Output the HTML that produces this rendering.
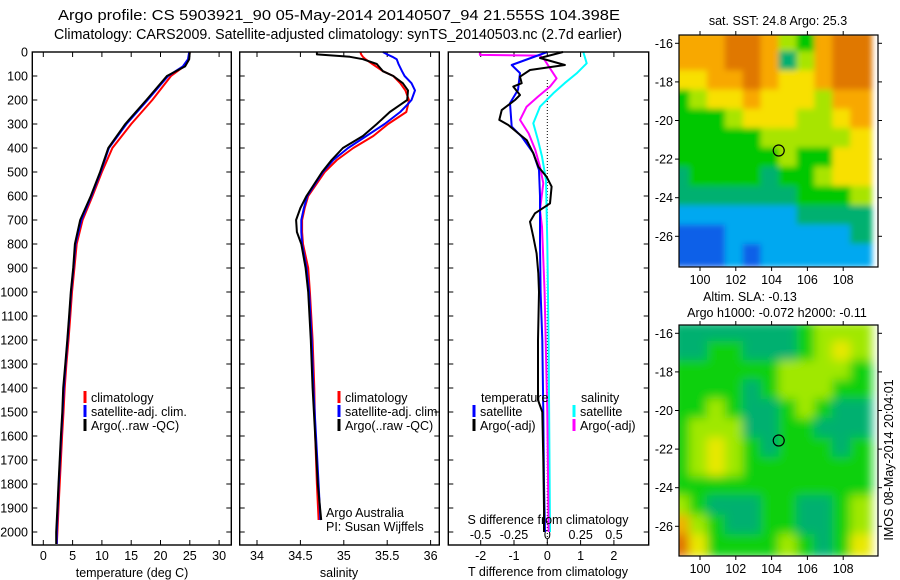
<!DOCTYPE html>
<html><head><meta charset="utf-8"><style>
html,body{margin:0;padding:0;background:#fff;}
svg{display:block;font-family:"Liberation Sans",sans-serif;}
</style></head><body>
<svg id="fig" width="900" height="580" viewBox="0 0 900 580" xmlns="http://www.w3.org/2000/svg">
<text x="58" y="20" font-size="14.5" textLength="562" lengthAdjust="spacingAndGlyphs">Argo profile: CS 5903921_90 05-May-2014 20140507_94 21.555S 104.398E</text>
<text x="54" y="39" font-size="14.5" textLength="568" lengthAdjust="spacingAndGlyphs">Climatology: CARS2009. Satellite-adjusted climatology: synTS_20140503.nc (2.7d earlier)</text>
<g id="plots"></g>
</svg>
<script>
// ---------------- data ----------------
const tDepth = [0,30,60,100,200,300,400,500,600,700,800,900,1000,1100,1200,1300,1400,1500,1600,1700,1800,1900,2000,2050];
const tArgo  = [25.0,24.9,24.2,21.1,17.6,14.0,11.1,9.7,8.1,6.3,5.4,5.1,4.7,4.4,4.1,3.75,3.4,3.25,3.0,2.8,2.6,2.4,2.2,2.2];
const tClim  = [25.0,24.8,24.0,21.8,18.6,15.0,11.8,10.0,8.4,6.7,5.7,5.3,4.9,4.6,4.3,3.95,3.65,3.45,3.2,3.0,2.8,2.6,2.4,2.3];
const tSat   = [24.9,24.7,23.8,21.3,17.8,14.2,11.2,9.8,8.2,6.5,5.5,5.15,4.75,4.45,4.15,3.8,3.5,3.3,3.05,2.85,2.65,2.45,2.3,2.3];

const sDepth = [0,10,20,30,50,80,100,130,160,200,220,250,300,350,400,450,500,600,650,700,750,800,900,1000,1200,1400,1600,1800,1950];
const sArgo  = [34.69,34.69,35.07,35.22,35.38,35.45,35.57,35.68,35.74,35.73,35.65,35.53,35.38,35.22,34.99,34.86,34.75,34.57,34.50,34.45,34.46,34.51,34.56,34.59,34.62,34.64,34.67,34.70,34.74];
const sClim  = [35.19,35.2,35.22,35.25,35.33,35.45,35.57,35.65,35.71,35.75,35.74,35.72,35.51,35.34,35.11,34.92,34.78,34.59,34.55,34.52,34.52,34.53,34.59,34.61,34.64,34.66,34.67,34.69,34.71];
const sSat   = [35.45,35.5,35.56,35.61,35.63,35.67,35.7,35.78,35.82,35.78,35.73,35.65,35.47,35.26,35.05,34.88,34.76,34.58,34.54,34.51,34.51,34.52,34.57,34.60,34.63,34.65,34.68,34.71,34.73];

const dtSatDepth = [0,54,88,158,213,311,353,421,492,600,800,1000,1200,1500,1800,2000];
const dtSat      = [0,-1.07,-0.82,-0.88,-1.12,-1.07,-0.77,-0.42,-0.25,-0.22,-0.22,-0.2,-0.15,-0.12,-0.1,-0.07];
const dtArgoDepth = [0,25,54,75,103,130,144,179,200,242,283,304,339,367,422,478,520,561,631,672,707,770,839,922,1000,1200,1450,1500,1700,1900,2000];
const dtArgo      = [0.47,-0.22,0.53,-0.52,-0.82,-0.77,-1.02,-0.82,-0.97,-1.37,-1.44,-1.17,-0.87,-0.62,-0.42,-0.27,-0.02,0.13,0.08,-0.37,-0.52,-0.42,-0.32,-0.27,-0.25,-0.28,-0.28,-0.15,-0.12,-0.1,-0.1];
const dsSatDepth = [0,47,89,130,172,228,297,367,436,533,800,1200,1600,2000];
const dsSat      = [0.27,0.295,0.22,0.13,0.045,-0.055,-0.105,-0.07,-0.04,-0.01,0,0.01,0.015,0.02];
const dsArgoDepth = [0,12,15,33,68,110,144,186,228,283,339,408,478,547,658,728,1000,1500,2000];
const dsArgo      = [-0.505,-0.505,-0.055,-0.02,0.02,0.07,0.02,-0.07,-0.155,-0.205,-0.14,-0.09,-0.055,-0.03,-0.055,-0.04,-0.02,0,0.01];

const depthTicks = [0,100,200,300,400,500,600,700,800,900,1000,1100,1200,1300,1400,1500,1600,1700,1800,1900,2000];
const tTicks = [0,5,10,15,20,25,30];
const sTicks = [34,34.5,35,35.5,36];
const sTickLabels = ["34","34.5","35","35.5","36"];
const dTTicks = [-2,-1,0,1,2];
const dSTicks = [-0.5,-0.25,0,0.25,0.5];
const dSTickLabels = ["-0.5","-0.25","0","0.25","0.5"];

const lonTicks = [100,102,104,106,108];
const latTicks = [-16,-18,-20,-22,-24,-26];
const gridLons = [99,100,101,102,103,104,105,106,107,108,109];
const gridLats = [-16,-17,-18,-19,-20,-21,-22,-23,-24,-25,-26,-27];
const sstGrid = [
[7,7,7,8,8,7,5,4,7,8,8],
[7,7,7,8,8,7,3,5,7,8,8],
[6,6,7,7,8,7,6,6,7,8,8],
[4,5,6,6,7,6,6,6,5,7,7],
[4,4,4,5,6,6,6,5,5,6,7],
[4,4,4,4,4,5,5,5,5,5,6],
[4,4,4,4,4,4,5,4,4,6,6],
[3,4,4,4,4,3,4,4,5,6,6],
[3,3,3,3,3,3,3,4,4,4,5],
[2,2,2,2,2,2,2,3,3,3,3],
[1,1,1,2,2,2,2,2,2,2,3],
[1,1,1,2,1,2,2,2,2,2,2]];
const slaGrid = [
[3,3,3,3,3,3,3,4,5,5,5],
[3,3,4,4,3,3,3,4,5,6,5],
[4,4,4,4,4,4,5,5,5,5,4],
[4,4,4,4,3,4,5,5,5,4,4],
[4,4,5,4,3,3,4,5,4,3,3],
[4,5,5,5,3,3,4,4,3,3,3],
[4,5,6,5,4,3,4,4,4,3,4],
[4,5,6,5,4,4,4,4,4,4,4],
[4,4,4,4,4,4,4,4,4,4,4],
[5,4,3,3,3,4,4,3,3,4,5],
[7,5,4,3,3,4,4,3,3,4,5],
[8,6,4,4,4,4,5,4,3,4,6]];
const argoLon = 104.398, argoLat = -21.555;

// ---------------- drawing ----------------
const NS="http://www.w3.org/2000/svg";
const root=document.getElementById('plots');
function el(tag,attrs,parent){const e=document.createElementNS(NS,tag);for(const k in attrs)e.setAttribute(k,attrs[k]);(parent||root).appendChild(e);return e;}
function txt(x,y,s,size,anchor,parent){const t=el('text',{x:x,y:y,'font-size':size,'text-anchor':anchor||'start'},parent);t.textContent=s;return t;}

const Y0=52, Y1=545;
const yD = d => Y0 + d*0.24;

function axisFrame(x0,x1,name){
  const r=el('rect',{x:x0,y:Y0,width:x1-x0,height:Y1-Y0,fill:'none',stroke:'#000','stroke-width':1.4});
  
  
}
function line(xs,ds,fx,color,name,w){
  const pts=xs.map((v,i)=>fx(v).toFixed(1)+','+yD(ds[i]).toFixed(1)).join(' ');
  const p=el('polyline',{points:pts,fill:'none',stroke:color,'stroke-width':w||2,'stroke-linejoin':'round'});
  
  
}
function legend(x,y,color,label,name){
  const g=el('g',{});
  
  
  el('line',{x1:x,y1:y-11,x2:x,y2:y+1,stroke:color,'stroke-width':3},g);
  if(label) txt(x+6,y,label,12.5,'start',g);
}
function xTicks(ticks,labels,fx,yl){
  ticks.forEach((t,i)=>{
    const x=fx(t);
    el('line',{x1:x,y1:Y1,x2:x,y2:Y1-5,stroke:'#000','stroke-width':1});
    el('line',{x1:x,y1:Y0,x2:x,y2:Y0+5,stroke:'#000','stroke-width':1});
    const tl=txt(x,yl,labels[i],12.5,'middle');
    
    
  });
}
function yTicks(x0,x1,labels){
  depthTicks.forEach(d=>{
    const y=yD(d);
    el('line',{x1:x0,y1:y,x2:x0+5,y2:y,stroke:'#000','stroke-width':1});
    el('line',{x1:x1,y1:y,x2:x1-5,y2:y,stroke:'#000','stroke-width':1});
    if(labels){const t=txt(28,y+4.5,String(d),12.5,'end');
      
      }
  });
}

// Panel 1: temperature
const fT = v => 43.3 + v*5.86;
yTicks(32.3,231.3,true);
xTicks(tTicks,tTicks.map(String),fT,560);
line(tClim,tDepth,fT,'#ff0000','temp-climatology-line');
line(tSat,tDepth,fT,'#0000ff','temp-satellite-line');
line(tArgo,tDepth,fT,'#000000','temp-argo-line');
axisFrame(32.3,231.3,'temperature-axes');
legend(85,402,'#ff0000','climatology','legend-climatology');
legend(85,416,'#0000ff','satellite-adj. clim.','legend-satellite-adj');
legend(85,430,'#000000','Argo(..raw -QC)','legend-argo');
let t=txt(132,577,'temperature (deg C)',12.5,'middle');



// Panel 2: salinity
const fS = v => 257 + (v-34)*86.8;
yTicks(239.7,439.3,false);
xTicks(sTicks,sTickLabels,fS,560);
line(sClim,sDepth,fS,'#ff0000','sal-climatology-line');
line(sSat,sDepth,fS,'#0000ff','sal-satellite-line');
line(sArgo,sDepth,fS,'#000000','sal-argo-line');
axisFrame(239.7,439.3,'salinity-axes');
legend(339,402,'#ff0000','climatology','legend-sal-climatology');
legend(339,416,'#0000ff','satellite-adj. clim.','legend-sal-satellite-adj');
legend(339,430,'#000000','Argo(..raw -QC)','legend-sal-argo');
t=txt(339,577,'salinity',12.5,'middle');


t=txt(326,517,'Argo Australia',12.5,'start');


t=txt(326,531,'PI: Susan Wijffels',12.5,'start');



// Panel 3: differences
const fDT = v => 547.3 + v*33.3;
const fDS = v => 547.3 + v*133.4;
yTicks(448.3,648.7,false);
dTTicks.forEach(v=>{const x=fDT(v);
  el('line',{x1:x,y1:Y1,x2:x,y2:Y1-5,stroke:'#000'});
  el('line',{x1:x,y1:Y0,x2:x,y2:Y0+5,stroke:'#000'});
  const tl=txt(x,560,String(v),12.5,'middle');
  
  });
dSTicks.forEach((v,i)=>{const tl=txt(fDS(v),539,dSTickLabels[i],12.5,'middle');
  
  });
const zl=el('line',{x1:fDT(0),y1:80,x2:fDT(0),y2:Y1,stroke:'#000','stroke-width':1,'stroke-dasharray':'1,2'});


line(dsSat,dsSatDepth,fDS,'#00ffff','sal-diff-satellite-line');
line(dsArgo,dsArgoDepth,fDS,'#ff00ff','sal-diff-argo-line');
line(dtSat,dtSatDepth,fDT,'#0000ff','temp-diff-satellite-line');
line(dtArgo,dtArgoDepth,fDT,'#000000','temp-diff-argo-line');
axisFrame(448.3,648.7,'difference-axes');
t=txt(481,402,'temperature',12.5,'start');


t=txt(581,402,'salinity',12.5,'start');


legend(474,416,'#0000ff','satellite','legend-temp-satellite');
legend(474,430,'#000000','Argo(-adj)','legend-temp-argo');
legend(574,416,'#00ffff','satellite','legend-sal-satellite');
legend(574,430,'#ff00ff','Argo(-adj)','legend-sal-argo-adj');
t=txt(548,524,'S difference from climatology',12.5,'middle');


t=txt(548,576,'T difference from climatology',12.5,'middle');



// Maps
const cmap=['#00108a','#1060e8','#00a8f0','#00b070','#00c800','#a8e400','#f8e000','#f8a800','#e07800'];
const slaMap=['#00108a','#1060e8','#00a8f0','#00b070','#10d010','#a0e800','#e8e800','#f0b000','#e07000'];
const MX0=679, MX1=878;
function drawMap(top,bot,grid,colors,name,blur){
  const fx = lon => 700 + (lon-100)*17.9;
  const fy = lat => top + 8.3 + (-16-lat)*19.3;
  const g=el('g',{});
  
  
  const cp=el('clipPath',{id:name+'-clip'},g);
  el('rect',{x:MX0,y:top,width:MX1-MX0,height:bot-top},cp);
  const inner=el('g',{'clip-path':'url(#'+name+'-clip)'},g);
  const fi=el('g',{filter:'url(#'+name+'-blur)'},inner);
  const f=el('filter',{id:name+'-blur',x:'-5%',y:'-5%',width:'110%',height:'110%'},g);
  el('feGaussianBlur',{stdDeviation:blur},f);
  grid.forEach((row,r)=>row.forEach((v,c)=>{
    const x=fx(gridLons[c]-0.5), y=fy(gridLats[r]+0.5);
    const cell=el('rect',{x:x-2,y:y-2,width:17.9+4,height:19.3+4,fill:colors[v]},fi);
    
    
  }));
  el('rect',{x:MX0,y:top,width:MX1-MX0,height:bot-top,fill:'none',stroke:'#000','stroke-width':1.2},g);
  lonTicks.forEach(l=>{const x=fx(l);
    el('line',{x1:x,y1:top,x2:x,y2:top-4,stroke:'#000'},g);
    el('line',{x1:x,y1:bot,x2:x,y2:bot+4,stroke:'#000'},g);
    const tl=txt(x,bot+17,String(l),12.5,'middle',g);
    
    });
  latTicks.forEach(l=>{const y=fy(l);
    el('line',{x1:MX0,y1:y,x2:MX0-4,y2:y,stroke:'#000'},g);
    el('line',{x1:MX1,y1:y,x2:MX1+4,y2:y,stroke:'#000'},g);
    const tl=txt(673,y+4.5,String(l),12.5,'end',g);
    
    });
  const c=el('circle',{cx:fx(argoLon),cy:fy(argoLat),r:5.5,fill:'none',stroke:'#000','stroke-width':1.2},g);
  
  
}
drawMap(35,267,sstGrid,cmap,'sst-map',3);
drawMap(325,556,slaGrid,slaMap,'sla-map',5);
t=txt(778,25,'sat. SST: 24.8 Argo: 25.3',12.5,'middle');


t=txt(750,301,'Altim. SLA: -0.13',12.5,'middle');


t=txt(777,317,'Argo h1000: -0.072 h2000: -0.11',12.5,'middle');


t=txt(0,0,'IMOS 08-May-2014 20:04:01',12.5,'middle');
t.setAttribute('transform','translate(893,460) rotate(-90)');


</script>
</body></html>
